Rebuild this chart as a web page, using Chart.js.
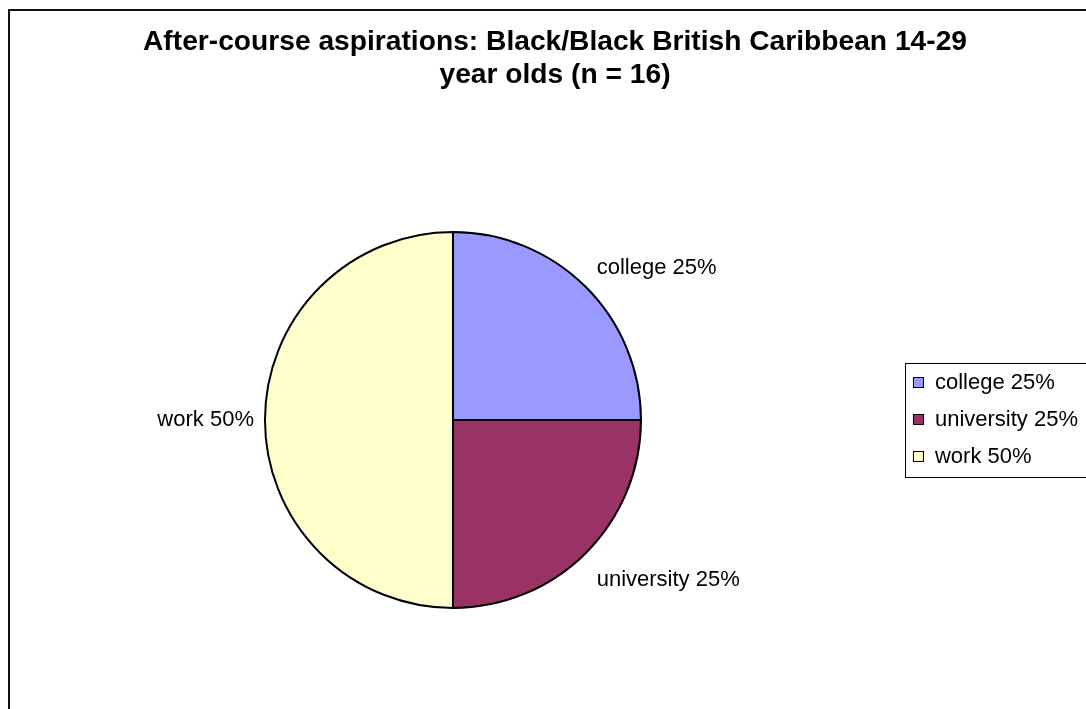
<!DOCTYPE html>
<html>
<head>
<meta charset="utf-8">
<script src="https://cdn.jsdelivr.net/npm/chart.js@4.4.0/dist/chart.umd.min.js"></script>
<style>
  html, body { margin: 0; padding: 0; background: #fff; overflow: hidden; width: 1086px; height: 709px; }
  #frame { position: absolute; left: 8px; top: 9px; width: 1078px; height: 727px; border: 2px solid #111; background: #fff; }
  #frame canvas { display: block; }
</style>
</head>
<body>
<div id="frame"><canvas id="c" width="1078" height="727"></canvas></div>
<script>
// Chart content
const titleLines = ['After-course aspirations: Black/Black British Caribbean 14-29', 'year olds (n = 16)'];
const categories = ['college', 'university', 'work'];
const percentages = [25, 25, 50];
const sliceColors = ['#9999FF', '#993366', '#FFFFCC'];

const FONT = "'Liberation Sans', Arial, Helvetica, sans-serif";
const itemLabels = categories.map((c, i) => c + ' ' + percentages[i] + '%');

// Legend swatch: small outlined square placed at the right end of a wider marker slot
function swatch(color) {
  const m = document.createElement('canvas');
  m.width = 25; m.height = 12;
  const g = m.getContext('2d');
  g.fillStyle = color;
  g.fillRect(14.5, 0.5, 10, 10);
  g.strokeStyle = '#000';
  g.lineWidth = 1;
  g.strokeRect(14.5, 0.5, 10, 10);
  return m;
}
const swatches = sliceColors.map(swatch);

// Text labels just outside each slice
const sliceLabels = {
  id: 'sliceLabels',
  afterDatasetsDraw(chart) {
    const meta = chart.getDatasetMeta(0);
    const ctx = chart.ctx;
    ctx.save();
    ctx.font = '22px ' + FONT;
    ctx.fillStyle = '#000';
    meta.data.forEach((arc, i) => {
      const p = arc.getProps(['x', 'y', 'startAngle', 'endAngle', 'outerRadius'], true);
      const mid = (p.startAngle + p.endAngle) / 2;
      const dx = Math.cos(mid), dy = Math.sin(mid);
      const r = p.outerRadius + 11;
      let x = p.x + dx * r, y = p.y + dy * r;
      if (dx > 0.2) { ctx.textAlign = 'left'; x += 3; }
      else if (dx < -0.2) { ctx.textAlign = 'right'; }
      else { ctx.textAlign = 'center'; }
      if (dy > 0.2) { ctx.textBaseline = 'top'; y += 8; }
      else if (dy < -0.2) { ctx.textBaseline = 'bottom'; }
      else { ctx.textBaseline = 'middle'; }
      ctx.fillText(chart.data.labels[i], x, y);
    });
    ctx.restore();
  }
};

// Thin frame around the legend entries
const legendFrame = {
  id: 'legendFrame',
  afterDraw(chart) {
    const hb = chart.legend && chart.legend.legendHitBoxes;
    if (!hb || !hb.length) return;
    const first = hb[0], last = hb[hb.length - 1];
    const ctx = chart.ctx;
    const x = Math.round(first.left + 6) + 0.5;
    const y = Math.round(first.top - 9) + 0.5;
    const h = Math.round(last.top + last.height + 9) - Math.round(first.top - 9);
    ctx.save();
    ctx.strokeStyle = '#000';
    ctx.lineWidth = 1;
    ctx.strokeRect(x, y, chart.width, h);
    ctx.restore();
  }
};

new Chart(document.getElementById('c'), {
  type: 'pie',
  data: {
    labels: itemLabels,
    datasets: [{
      data: percentages,
      backgroundColor: sliceColors,
      borderColor: '#000',
      borderWidth: 2,
      hoverOffset: 0,
      offset: 0
    }]
  },
  options: {
    responsive: false,
    animation: false,
    events: [],
    radius: 188,
    rotation: 0,
    layout: { padding: { left: 12, right: 0, top: 0, bottom: 0 } },
    plugins: {
      tooltip: { enabled: false },
      title: {
        display: true,
        text: titleLines,
        color: '#000',
        font: { family: FONT, size: 28.2, weight: 'bold', lineHeight: 33 / 28.2 },
        padding: { top: 15, bottom: 10 }
      },
      legend: {
        display: true,
        position: 'right',
        fullSize: false,
        align: 'center',
        labels: {
          usePointStyle: true,
          pointStyleWidth: 25,
          boxHeight: 11,
          padding: 15,
          color: '#000',
          font: { family: FONT, size: 22 },
          generateLabels: chart => chart.data.labels.map((text, i) => ({
            text,
            fillStyle: sliceColors[i],
            strokeStyle: '#000',
            lineWidth: 1,
            pointStyle: swatches[i],
            fontColor: '#000',
            hidden: false,
            index: i
          }))
        }
      }
    }
  },
  plugins: [sliceLabels, legendFrame]
});
</script>
</body>
</html>
